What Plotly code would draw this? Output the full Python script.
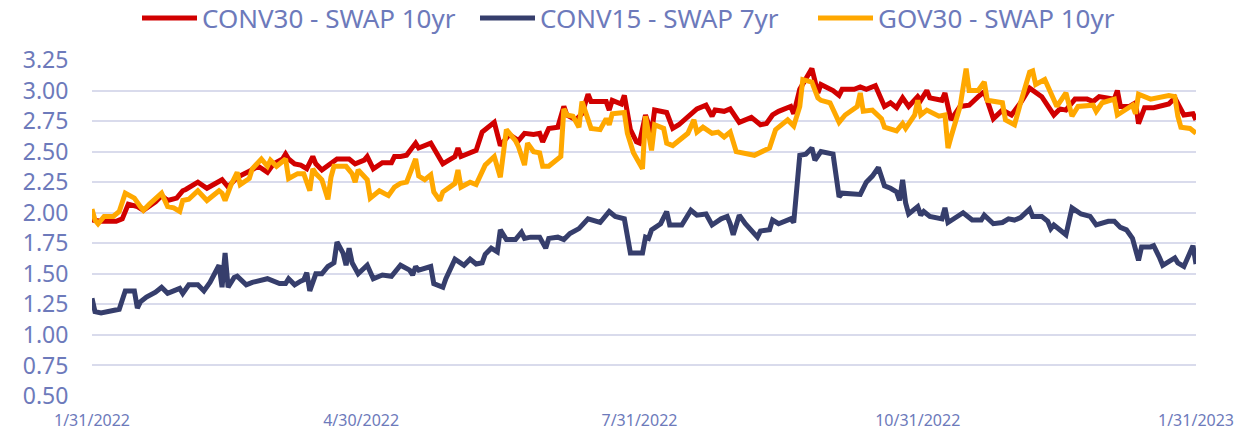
import pandas as pd
import plotly.graph_objects as go

start = pd.Timestamp("2022-01-31")

# day offsets from 1/31/2022 and spread values
conv30_days = [0, 3, 8, 10, 12, 15, 17, 21, 23, 25, 28, 30, 31, 35, 38, 41, 43, 45, 48, 52,
               55, 58, 60, 63, 64, 65, 67, 69, 71, 73, 74, 76, 79, 81, 85, 87, 90, 91, 93, 96,
               99, 100, 102, 104, 107, 108, 112, 116, 118, 120, 121, 122, 127, 129, 133, 135, 138, 141, 143, 146,
               148, 149, 151, 154, 156, 157, 160, 162, 164, 165, 168, 170, 171, 172, 175, 176, 178, 180, 181, 183,
               185, 186, 190, 192, 194, 198, 200, 203, 205, 206, 209, 211, 214, 218, 221, 223, 225, 227, 231, 232,
               234, 238, 240, 241, 245, 247, 248, 252, 254, 256, 259, 262, 264, 266, 268, 270, 273, 274, 276, 277,
               281, 282, 284, 287, 290, 293, 295, 298, 301, 304, 307, 310, 312, 314, 318, 320, 322, 325, 329, 331,
               333, 336, 338, 339, 340, 343, 345, 346, 348, 351, 353, 356, 358, 360, 361, 364, 365]
conv30_vals = [1.94, 1.93, 1.93, 1.95, 2.07, 2.05, 2.02, 2.09, 2.14, 2.10, 2.12, 2.18, 2.19, 2.25, 2.20, 2.24, 2.27, 2.21, 2.29, 2.34,
               2.38, 2.33, 2.40, 2.44, 2.48, 2.44, 2.40, 2.39, 2.36, 2.46, 2.40, 2.35, 2.40, 2.44, 2.44, 2.40, 2.43, 2.46, 2.36, 2.41,
               2.41, 2.46, 2.46, 2.47, 2.57, 2.53, 2.57, 2.40, 2.43, 2.46, 2.53, 2.46, 2.51, 2.66, 2.74, 2.55, 2.64, 2.59, 2.65, 2.64,
               2.65, 2.58, 2.69, 2.70, 2.87, 2.80, 2.76, 2.81, 2.97, 2.91, 2.91, 2.91, 2.84, 2.92, 2.89, 2.96, 2.68, 2.58, 2.57, 2.80,
               2.65, 2.84, 2.82, 2.69, 2.72, 2.80, 2.85, 2.88, 2.79, 2.84, 2.83, 2.85, 2.74, 2.78, 2.72, 2.73, 2.80, 2.83, 2.87, 2.81,
               3.01, 3.18, 2.98, 3.05, 3.00, 2.96, 3.01, 3.01, 3.03, 3.01, 3.04, 2.87, 2.90, 2.86, 2.94, 2.87, 2.95, 2.92, 3.00, 2.94,
               2.92, 2.98, 2.76, 2.87, 2.88, 2.95, 2.99, 2.77, 2.84, 2.80, 2.90, 3.02, 2.98, 2.95, 2.80, 2.85, 2.84, 2.93, 2.93, 2.91,
               2.95, 2.94, 2.93, 3.00, 2.87, 2.87, 2.90, 2.73, 2.86, 2.86, 2.87, 2.89, 2.94, 2.85, 2.80, 2.81, 2.76]

conv15_days = [0, 1, 3, 6, 8, 9, 11, 13, 14, 15, 16, 18, 21, 23, 25, 27, 29, 30, 32, 35,
               37, 39, 42, 43, 44, 45, 47, 48, 51, 53, 58, 62, 64, 65, 67, 69, 70, 71, 72, 74,
               76, 78, 80, 81, 83, 84, 85, 86, 88, 91, 93, 96, 99, 102, 105, 106, 107, 108, 112, 113,
               116, 117, 120, 123, 125, 127, 129, 130, 132, 134, 135, 137, 140, 142, 143, 145, 148, 150, 151, 154,
               156, 158, 161, 164, 166, 168, 171, 173, 176, 178, 182, 183, 184, 185, 188, 190, 191, 195, 198, 200,
               203, 205, 208, 210, 211, 212, 214, 216, 220, 221, 224, 225, 227, 231, 232, 234, 236, 238, 239, 241,
               245, 247, 248, 252, 254, 256, 258, 260, 262, 264, 266, 267, 268, 269, 270, 273, 274, 275, 277, 281,
               282, 283, 285, 288, 291, 294, 295, 298, 301, 303, 305, 307, 310, 311, 314, 316, 317, 318, 322, 324,
               327, 330, 332, 336, 338, 340, 342, 344, 346, 347, 350, 351, 353, 354, 356, 358, 359, 361, 364, 365]
conv15_vals = [1.30, 1.19, 1.18, 1.19, 1.20, 1.21, 1.36, 1.36, 1.36, 1.22, 1.27, 1.31, 1.35, 1.39, 1.34, 1.36, 1.38, 1.34, 1.41, 1.41,
               1.36, 1.43, 1.57, 1.39, 1.67, 1.39, 1.47, 1.48, 1.41, 1.43, 1.46, 1.42, 1.42, 1.46, 1.41, 1.44, 1.45, 1.51, 1.36, 1.50,
               1.50, 1.56, 1.59, 1.76, 1.67, 1.57, 1.71, 1.59, 1.50, 1.57, 1.46, 1.49, 1.48, 1.57, 1.53, 1.49, 1.56, 1.53, 1.56, 1.42,
               1.39, 1.46, 1.62, 1.57, 1.62, 1.58, 1.59, 1.66, 1.71, 1.68, 1.86, 1.78, 1.78, 1.84, 1.79, 1.80, 1.80, 1.71, 1.79, 1.80,
               1.78, 1.83, 1.87, 1.95, 1.94, 1.92, 2.01, 1.97, 1.95, 1.67, 1.67, 1.80, 1.79, 1.86, 1.91, 2.01, 1.90, 1.90, 2.02, 1.98,
               1.99, 1.90, 1.95, 1.97, 1.91, 1.82, 1.98, 1.91, 1.80, 1.85, 1.86, 1.94, 1.91, 1.95, 1.92, 2.47, 2.48, 2.53, 2.43, 2.50,
               2.48, 2.13, 2.16, 2.16, 2.15, 2.25, 2.30, 2.37, 2.22, 2.20, 2.17, 2.10, 2.27, 2.08, 1.99, 2.05, 1.98, 2.01, 1.97, 1.95,
               2.04, 1.92, 1.95, 2.00, 1.94, 1.94, 1.98, 1.91, 1.92, 1.95, 1.94, 1.96, 2.03, 1.97, 1.97, 1.93, 1.87, 1.90, 1.82, 2.04,
               1.99, 1.97, 1.90, 1.93, 1.93, 1.88, 1.86, 1.79, 1.61, 1.72, 1.72, 1.73, 1.63, 1.57, 1.60, 1.63, 1.59, 1.56, 1.73, 1.58]

gov30_days = [0, 1, 2, 4, 7, 9, 11, 13, 14, 16, 17, 19, 23, 25, 27, 29, 30, 32, 35, 38,
              42, 43, 44, 46, 48, 49, 52, 53, 56, 58, 59, 61, 64, 65, 68, 70, 72, 73, 74, 76,
              78, 79, 80, 84, 86, 87, 88, 91, 92, 95, 98, 100, 102, 104, 107, 108, 110, 112, 113, 115,
              116, 120, 121, 122, 125, 127, 130, 133, 135, 137, 140, 141, 143, 144, 146, 148, 149, 151, 155, 156,
              157, 159, 161, 162, 165, 168, 170, 171, 172, 176, 177, 179, 182, 183, 185, 186, 189, 190, 192, 197,
              199, 200, 202, 205, 207, 209, 211, 213, 216, 219, 224, 226, 230, 232, 234, 235, 238, 240, 241, 244,
              247, 249, 253, 254, 255, 258, 261, 262, 266, 268, 269, 272, 273, 274, 276, 280, 282, 283, 284, 287,
              289, 290, 293, 295, 296, 301, 302, 305, 307, 310, 311, 312, 315, 317, 319, 322, 324, 326, 331, 332,
              334, 338, 339, 344, 345, 346, 350, 356, 358, 359, 360, 363, 365]
gov30_vals = [2.03, 1.94, 1.91, 1.97, 1.97, 2.01, 2.16, 2.13, 2.12, 2.05, 2.02, 2.07, 2.16, 2.05, 2.04, 2.01, 2.10, 2.11, 2.18, 2.10,
              2.18, 2.16, 2.10, 2.23, 2.33, 2.23, 2.28, 2.36, 2.44, 2.38, 2.43, 2.38, 2.44, 2.28, 2.32, 2.32, 2.18, 2.36, 2.32, 2.27,
              2.11, 2.29, 2.38, 2.38, 2.32, 2.25, 2.35, 2.27, 2.12, 2.18, 2.14, 2.21, 2.24, 2.25, 2.44, 2.30, 2.27, 2.31, 2.17, 2.10,
              2.17, 2.24, 2.35, 2.21, 2.25, 2.23, 2.39, 2.46, 2.29, 2.68, 2.59, 2.54, 2.39, 2.57, 2.50, 2.49, 2.38, 2.38, 2.46, 2.85,
              2.80, 2.79, 2.70, 2.91, 2.69, 2.68, 2.77, 2.72, 2.81, 2.82, 2.65, 2.49, 2.36, 2.79, 2.51, 2.72, 2.69, 2.57, 2.55, 2.65,
              2.76, 2.66, 2.70, 2.65, 2.66, 2.62, 2.66, 2.50, 2.49, 2.47, 2.53, 2.68, 2.76, 2.71, 2.87, 3.09, 3.07, 2.94, 2.92, 2.90,
              2.74, 2.80, 2.87, 2.98, 2.83, 2.84, 2.77, 2.70, 2.67, 2.73, 2.69, 2.80, 2.92, 2.80, 2.84, 2.79, 2.80, 2.53, 2.62, 2.87,
              3.18, 3.00, 3.00, 3.07, 2.92, 2.90, 2.76, 2.72, 2.90, 3.15, 3.16, 3.05, 3.09, 2.99, 2.87, 2.98, 2.79, 2.87, 2.88, 2.83,
              2.90, 2.93, 2.80, 2.88, 2.81, 2.97, 2.93, 2.96, 2.95, 2.79, 2.70, 2.69, 2.65]

series = [
    ("CONV30 - SWAP 10yr", conv30_days, conv30_vals, "#d10000"),
    ("CONV15 - SWAP 7yr", conv15_days, conv15_vals, "#363e6c"),
    ("GOV30 - SWAP 10yr", gov30_days, gov30_vals, "#ffa800"),
]

tick_dates = ["2022-01-31", "2022-04-30", "2022-07-31", "2022-10-31", "2023-01-31"]
tick_text = ["1/31/2022", "4/30/2022", "7/31/2022", "10/31/2022", "1/31/2023"]

text_color = "#6d7abb"
grid_color = "#d9dbec"

fig = go.Figure()
for name, days, vals, color in series:
    fig.add_trace(
        go.Scatter(
            x=[start + pd.Timedelta(days=d) for d in days],
            y=vals,
            name=name,
            mode="lines",
            line=dict(color=color, width=5),
        )
    )

fig.update_layout(
    width=1246,
    height=432,
    margin=dict(l=92, r=50, t=60, b=36, autoexpand=False),
    paper_bgcolor="white",
    plot_bgcolor="white",
    font=dict(family="Noto Sans, Open Sans, sans-serif", color=text_color),
    showlegend=True,
    legend=dict(
        orientation="h",
        x=0.5,
        xanchor="center",
        y=0.958,
        yanchor="middle",
        yref="container",
        font=dict(size=26, color=text_color),
        itemwidth=55,
        entrywidth=268,
    ),
)

fig.update_xaxes(
    range=[start, pd.Timestamp("2023-01-31")],
    tickvals=tick_dates,
    ticktext=tick_text,
    tickfont=dict(size=16, color=text_color),
    showgrid=False,
    zeroline=False,
    showline=False,
    ticks="outside",
    ticklen=10,
    tickcolor="rgba(0,0,0,0)",
)
fig.update_yaxes(
    range=[0.5, 3.25],
    tickvals=[0.5, 0.75, 1.0, 1.25, 1.5, 1.75, 2.0, 2.25, 2.5, 2.75, 3.0, 3.25],
    tickformat=".2f",
    tickfont=dict(size=23, color=text_color),
    showgrid=True,
    gridcolor=grid_color,
    gridwidth=2,
    zeroline=False,
    showline=False,
    ticks="outside",
    ticklen=18,
    tickcolor="rgba(0,0,0,0)",
)

# drop the default 8px body margin so the 1246x432 figure fills the window
fig.write_html(
    "out.html",
    config={"displayModeBar": False},
    post_script="document.body.style.margin = '0';",
)
